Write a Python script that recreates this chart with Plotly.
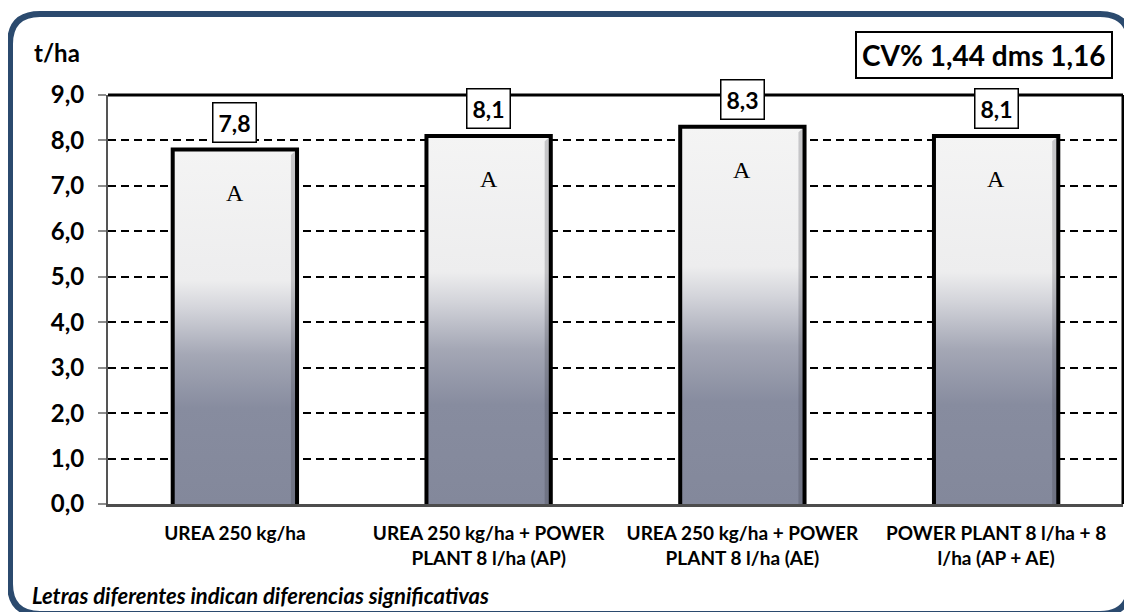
import plotly.graph_objects as go

# ---- data ----
categories = [
    "UREA 250 kg/ha",
    "UREA 250 kg/ha + POWER<br>PLANT 8 l/ha (AP)",
    "UREA 250 kg/ha + POWER<br>PLANT 8 l/ha (AE)",
    "POWER PLANT 8 l/ha + 8<br>l/ha (AP + AE)",
]
yields = [7.8, 8.1, 8.3, 8.1]
letters = ["A", "A", "A", "A"]
y_ticks = [0, 1, 2, 3, 4, 5, 6, 7, 8, 9]
y_title = "t/ha"
stats_text = "CV% 1,44 dms 1,16"
footer_text = "Letras diferentes indican diferencias significativas"

# ---- geometry (page has an 8px body margin) ----
OFF = 8
W, H = 1132 - OFF, 612 - OFF
L, R, T, B = 108 - OFF, 1123 - OFF, 95 - OFF, 504 - OFF  # plot area in figure pixels
BAR_W = 0.49
SANS = "Lato"


def px(x):
    """reference-pixel x -> paper x"""
    return (x - OFF - L) / (R - L)


def py(y):
    """reference-pixel y -> paper y"""
    return (B - (y - OFF)) / (B - T)


fig = go.Figure()

grad = [
    [0.0, "#83889B"],
    [0.27, "#878C9F"],
    [0.42, "#A4A7B5"],
    [0.55, "#D3D4DA"],
    [0.63, "#EDEDEE"],
    [1.0, "#F4F4F4"],
]

for i, v in enumerate(yields):
    h = BAR_W / 2
    fig.add_trace(go.Scatter(
        x=[i - h, i - h, i + h, i + h],
        y=[0, v, v, 0],
        mode="lines",
        fill="toself",
        fillgradient=dict(type="vertical", colorscale=grad, start=0, stop=v),
        line=dict(width=0),
        hoverinfo="skip",
        showlegend=False,
    ))
    # bevel: darker right edge
    e = 0.024
    fig.add_trace(go.Scatter(
        x=[i + h - e, i + h - e, i + h, i + h],
        y=[0, v - 0.12, v, 0],
        mode="lines", fill="toself", fillcolor="rgba(40,40,50,0.22)",
        line=dict(width=0), hoverinfo="skip", showlegend=False,
    ))
    # bar outline (left, top, right)
    fig.add_trace(go.Scatter(
        x=[i - h, i - h, i + h, i + h],
        y=[0, v, v, 0],
        mode="lines",
        line=dict(color="#000000", width=4),
        hoverinfo="skip",
        showlegend=False,
    ))
    # value label box
    fig.add_annotation(
        x=i, y=v, xref="x", yref="y",
        text="<b>" + f"{v:.1f}".replace(".", ",") + "</b>",
        showarrow=False, xanchor="center", yanchor="bottom", yshift=7,
        font=dict(family=SANS, size=23, color="#000000"),
        bgcolor="#FFFFFF", bordercolor="#000000", borderwidth=1.5, borderpad=5,
    )
    # significance letter
    fig.add_annotation(
        x=i, y=v, xref="x", yref="y",
        text=letters[i], showarrow=False, xanchor="center", yanchor="middle", yshift=-43,
        font=dict(family="Liberation Serif", size=24, color="#000000"),
    )

# axis title
fig.add_annotation(
    x=px(57), y=py(52), xref="paper", yref="paper",
    xanchor="center", yanchor="middle",
    text="<b>" + y_title + "</b>", showarrow=False,
    font=dict(family=SANS, size=24, color="#000000"),
)
# statistics box
fig.add_annotation(
    x=px(984), y=py(54.5), xref="paper", yref="paper",
    xanchor="center", yanchor="middle",
    text="<b>" + stats_text + "</b>", showarrow=False,
    font=dict(family=SANS, size=28, color="#000000"),
    bgcolor="#FFFFFF", bordercolor="#000000", borderwidth=2, borderpad=5,
)
# footer
fig.add_annotation(
    x=px(30), y=py(595), xref="paper", yref="paper",
    xanchor="left", yanchor="middle",
    text="<b><i>" + footer_text + "</i></b>", showarrow=False,
    font=dict(family=SANS, size=22, color="#000000"),
)

# plot area top and right borders
fig.add_shape(type="line", xref="paper", yref="paper", x0=0, x1=1, y0=1, y1=1,
              line=dict(color="#000000", width=3), layer="above")
fig.add_shape(type="line", xref="paper", yref="paper", x0=1, x1=1, y0=0, y1=1,
              line=dict(color="#000000", width=3), layer="above")

# outer rounded frame
x0, x1, y0, y1, r = 10, 1130, 14, 614, 30
path = (
    f"M {px(x0)},{py(y0 + r)} "
    f"Q {px(x0)},{py(y0)} {px(x0 + r)},{py(y0)} "
    f"L {px(x1 - r)},{py(y0)} "
    f"Q {px(x1)},{py(y0)} {px(x1)},{py(y0 + r)} "
    f"L {px(x1)},{py(y1 - r)} "
    f"Q {px(x1)},{py(y1)} {px(x1 - r)},{py(y1)} "
    f"L {px(x0 + r)},{py(y1)} "
    f"Q {px(x0)},{py(y1)} {px(x0)},{py(y1 - r)} Z"
)
fig.add_shape(type="path", xref="paper", yref="paper", path=path,
              line=dict(color="#2B4A6E", width=6), fillcolor="rgba(0,0,0,0)", layer="above")

fig.update_layout(
    width=W, height=H,
    margin=dict(l=L, r=W - R, t=T, b=H - B),
    paper_bgcolor="#FFFFFF", plot_bgcolor="#FFFFFF",
    separators=",.",
    showlegend=False,
    xaxis=dict(
        range=[-0.5, len(categories) - 0.5],
        tickmode="array", tickvals=list(range(len(categories))), ticktext=categories,
        showgrid=False, zeroline=False,
        showline=True, linecolor="#4D4D4D", linewidth=3,
        ticks="", ticklabelstandoff=10,
        tickfont=dict(family=SANS, size=19, color="#000000", weight="bold"),
        fixedrange=True,
    ),
    yaxis=dict(
        range=[0, 9], tickmode="array", tickvals=y_ticks, tickformat=".1f",
        showgrid=True, gridcolor="#000000", gridwidth=2, griddash="8px,5px",
        zeroline=False,
        showline=True, linecolor="#555555", linewidth=2,
        ticks="outside", ticklen=8, tickwidth=2, tickcolor="#8C8C8C",
        ticklabelstandoff=9,
        tickfont=dict(family=SANS, size=24, color="#000000", weight="bold"),
        fixedrange=True,
    ),
)

fig.write_html("out.html")
